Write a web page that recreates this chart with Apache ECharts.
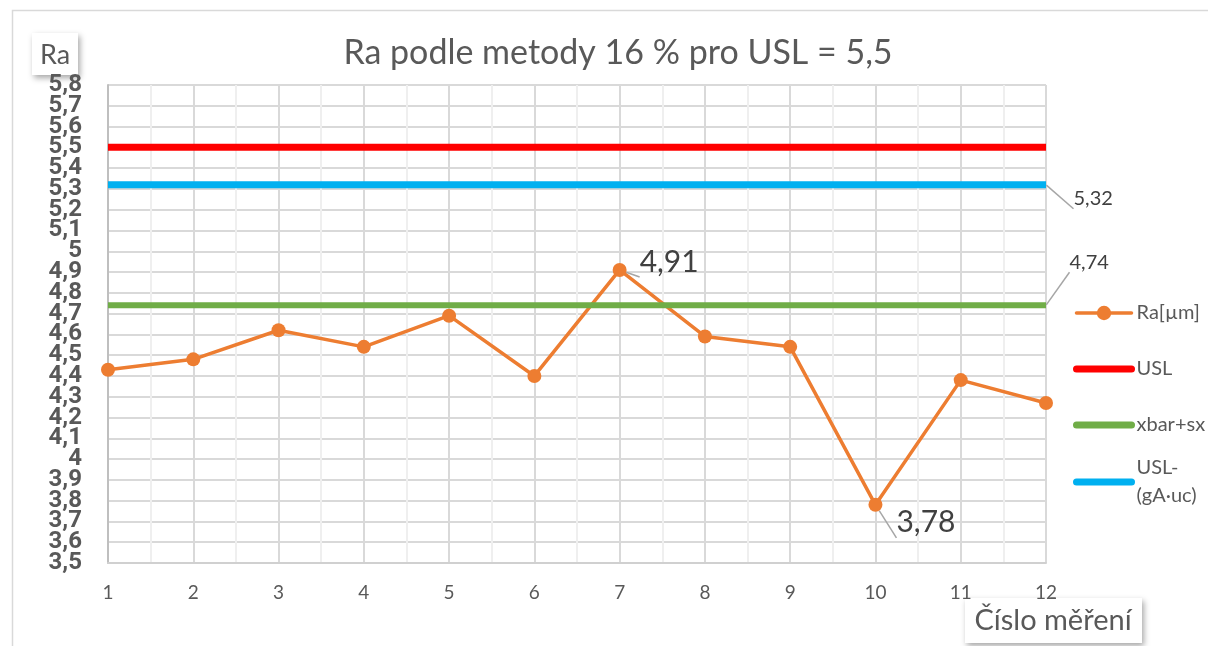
<!DOCTYPE html>
<html>
<head>
<meta charset="utf-8">
<script src="https://cdn.jsdelivr.net/npm/echarts@6/dist/echarts.min.js"></script>
<style>
  html, body { margin: 0; padding: 0; background: #fff; }
  #chart { width: 1208px; height: 646px; }
</style>
</head>
<body>
<div id="chart"></div>
<script>
// Measurement numbers (x axis)
const measurements = [1, 2, 3, 4, 5, 6, 7, 8, 9, 10, 11, 12];
// Measured roughness Ra [µm]
const raValues = [4.43, 4.48, 4.62, 4.54, 4.69, 4.40, 4.91, 4.59, 4.54, 3.78, 4.38, 4.27];
// Upper specification limit
const uslValues = [5.5, 5.5, 5.5, 5.5, 5.5, 5.5, 5.5, 5.5, 5.5, 5.5, 5.5, 5.5];
// Mean plus standard deviation
const xbarSxValues = [4.74, 4.74, 4.74, 4.74, 4.74, 4.74, 4.74, 4.74, 4.74, 4.74, 4.74, 4.74];
// USL minus guard band (gA·uc)
const uslGuardValues = [5.32, 5.32, 5.32, 5.32, 5.32, 5.32, 5.32, 5.32, 5.32, 5.32, 5.32, 5.32];
// Y axis range and step
const yMin = 3.5, yMax = 5.8, yStep = 0.1;

const FONT = 'Lato, "Open Sans", "DejaVu Sans", sans-serif';
const TXT = '#595959';
const CLEAR = 'rgba(0,0,0,0)';
const LEADER = { show: true, lineStyle: { color: '#A6A6A6', width: 1.5 } };

function pairs(vals) {
  return vals.map((v, i) => [measurements[i], v]);
}
function comma(v) {
  return String(Math.round(v * 100) / 100).replace('.', ',');
}
function isEnd(v) {
  return Math.abs(v - yMin) < 1e-6 || Math.abs(v - yMax) < 1e-6;
}

// Ra series: values 7 and 10 carry their own labels
const raData = pairs(raValues).map((p, i) => {
  if (i === 6) {
    return { value: p, label: { show: true, position: 'right', offset: [8, -8] }, labelLine: LEADER };
  }
  if (i === 9) {
    return { value: p, label: { show: true, position: 'right', offset: [9, 18] }, labelLine: LEADER };
  }
  return { value: p };
});

// Limit lines: only the last value carries a label
function limitData(vals, offset) {
  return pairs(vals).map((p, i) => i === vals.length - 1
    ? { value: p, label: { show: true, position: 'right', offset: offset }, labelLine: LEADER }
    : { value: p });
}

function limitSeries(name, color, width, vals, offset) {
  return {
    name: name,
    type: 'line',
    data: offset ? limitData(vals, offset) : pairs(vals),
    symbol: 'circle',
    symbolSize: 1,
    showSymbol: true,
    color: color,
    itemStyle: { color: CLEAR },
    lineStyle: { color: color, width: width },
    label: { show: false, color: '#404040', fontSize: 20, fontFamily: FONT, opacity: 1, formatter: p => comma(p.value[1]) },
    z: 3
  };
}

const yLabelStyle = {
  color: TXT, fontSize: 24, lineHeight: 17, fontWeight: 'bold',
  fontFamily: 'Roboto, "Open Sans", sans-serif', margin: 26
};

const chart = echarts.init(document.getElementById('chart'), null, { renderer: 'canvas' });

const legendText = { color: TXT, fontSize: 20, fontFamily: FONT, lineHeight: 28 };

chart.setOption({
  backgroundColor: '#ffffff',
  animation: false,
  textStyle: { fontFamily: FONT },
  title: {
    text: 'Ra podle metody 16 % pro USL = 5,5',
    left: 613,
    top: 31,
    textAlign: 'center',
    textStyle: { fontFamily: FONT, fontSize: 34, fontWeight: 'normal', color: TXT }
  },
  grid: { left: 108, right: 162, top: 85, bottom: 83, containLabel: false },
  xAxis: {
    type: 'value',
    min: 1,
    max: 12,
    interval: 1,
    axisLine: { show: true, onZero: false, lineStyle: { color: '#D0D0D0', width: 2 } },
    axisTick: { show: false },
    minorTick: { show: false, splitNumber: 2 },
    splitLine: { show: true, lineStyle: { color: '#D9D9D9', width: 2 } },
    minorSplitLine: { show: true, lineStyle: { color: '#EFEFEF', width: 2 } },
    axisLabel: { color: TXT, fontSize: 19, fontFamily: FONT, margin: 20 }
  },
  yAxis: [
    {
      // inner tick labels and grid
      type: 'value',
      min: yMin,
      max: yMax,
      interval: yStep,
      position: 'left',
      axisLine: { show: true, lineStyle: { color: '#BFBFBF', width: 2 } },
      axisTick: { show: false },
      splitLine: { show: true, lineStyle: { color: '#D9D9D9', width: 2 } },
      axisLabel: Object.assign({}, yLabelStyle, {
        showMinLabel: false, showMaxLabel: false,
        formatter: v => comma(v)
      })
    },
    {
      // end labels of the same scale
      type: 'value',
      min: yMin,
      max: yMax,
      interval: yStep,
      position: 'left',
      offset: 0,
      axisLine: { show: false },
      axisTick: { show: false },
      splitLine: { show: false },
      axisLabel: Object.assign({}, yLabelStyle, {
        showMinLabel: true, showMaxLabel: true,
        formatter: v => (isEnd(v) ? comma(v) : '')
      })
    }
  ],
  legend: [
    {
      data: [
        { name: 'Ra[µm]', lineStyle: { width: 3.5 } },
        { name: 'USL', lineStyle: { width: 7 } },
        { name: 'xbar+sx', lineStyle: { width: 7 } }
      ],
      orient: 'vertical',
      left: 1073,
      top: 299,
      padding: 0,
      itemWidth: 55,
      itemHeight: 18,
      itemGap: 28,
      textStyle: legendText,
      lineStyle: { cap: 'round' }
    },
    {
      data: [{ name: 'USL-(gA·uc)', lineStyle: { width: 7 } }],
      orient: 'vertical',
      left: 1073,
      top: 440,
      padding: 0,
      itemWidth: 55,
      itemHeight: 18,
      formatter: () => 'USL-\n(gA·uc)',
      textStyle: Object.assign({}, legendText, { padding: [28, 0, 0, 0] }),
      lineStyle: { cap: 'round' }
    }
  ],
  series: [
    {
      name: 'Ra[µm]',
      type: 'line',
      data: raData,
      symbol: 'circle',
      symbolSize: 14,
      color: '#ED7D31',
      lineStyle: { color: '#ED7D31', width: 3.5 },
      itemStyle: { color: '#ED7D31' },
      label: { show: false, color: '#404040', fontSize: 30, fontFamily: FONT, formatter: p => comma(p.value[1]) },
      z: 2
    },
    limitSeries('USL', '#FF0000', 7, uslValues, null),
    limitSeries('xbar+sx', '#70AD47', 6, xbarSxValues, [18, -43]),
    limitSeries('USL-(gA·uc)', '#00B0F0', 7, uslGuardValues, [22, 14])
  ],
  graphic: [
    {
      type: 'rect',
      left: 10,
      top: 8,
      z: -10,
      silent: true,
      shape: { width: 1300, height: 700 },
      style: { fill: 'none', stroke: '#D9D9D9', lineWidth: 1.5 }
    },
    {
      type: 'group',
      left: 32,
      top: 33,
      z: 10,
      children: [
        {
          type: 'rect',
          shape: { width: 46, height: 42 },
          style: { fill: '#fff', shadowBlur: 6, shadowColor: 'rgba(0,0,0,0.35)', shadowOffsetX: 2, shadowOffsetY: 3 }
        },
        {
          type: 'text',
          x: 23, y: 22,
          style: { text: 'Ra', fill: TXT, font: '27px ' + FONT, align: 'center', verticalAlign: 'middle' }
        }
      ]
    },
    {
      type: 'group',
      left: 965,
      top: 598,
      z: 10,
      children: [
        {
          type: 'rect',
          shape: { width: 177, height: 45 },
          style: { fill: '#fff', shadowBlur: 6, shadowColor: 'rgba(0,0,0,0.35)', shadowOffsetX: 2, shadowOffsetY: 3 }
        },
        {
          type: 'text',
          x: 88, y: 23,
          style: { text: 'Číslo měření', fill: TXT, font: '29px ' + FONT, align: 'center', verticalAlign: 'middle' }
        }
      ]
    }
  ]
});
</script>
</body>
</html>
